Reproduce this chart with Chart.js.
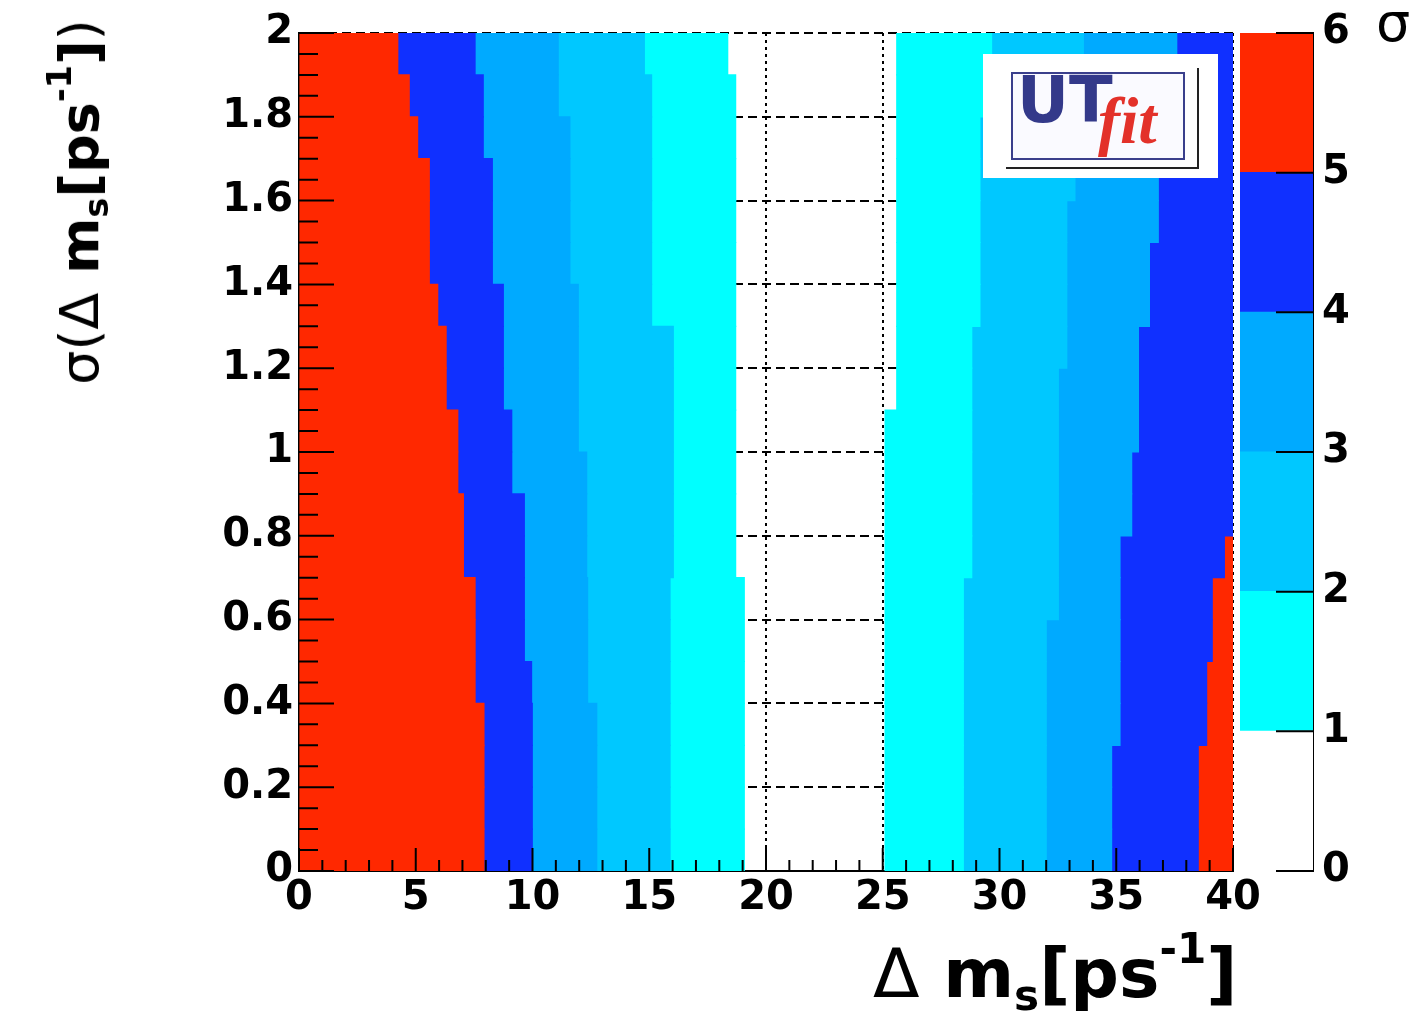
<!DOCTYPE html>
<html>
<head>
<meta charset="utf-8">
<script src="https://cdn.jsdelivr.net/npm/chart.js@4"></script>
<style>
  body { margin: 0; background: #fff; width: 1425px; height: 1017px; overflow: hidden; position: relative; font-family: 'DejaVu Sans', sans-serif; }
  .box { position: absolute; }
  .sub { font-size: 0.62em; position: relative; top: 0.3em; }
  .sup { font-size: 0.62em; position: relative; top: -0.8em; }
  .title { position: absolute; font-weight: bold; white-space: nowrap; color: #000; line-height: 1; }
  .thin { font-weight: normal; }
</style>
</head>
<body>
<div class="box" style="left:0;top:0;width:1425px;height:1017px"><canvas id="myChart"></canvas></div>
<div class="box" style="left:1236px;top:0;width:189px;height:1017px"><canvas id="scaleChart"></canvas></div>

<div class="title" id="xTitle" style="left:873px;top:940px;font-size:68px"><span class="thin">&Delta;</span> m<span class="sub">s</span>[ps<span class="sup">-1</span>]</div>
<div class="title" id="yTitle" style="left:80px;top:202px;font-size:54px;transform:translate(-50%,-50%) rotate(-90deg)"><span class="thin">&sigma;(&Delta;</span> m<span class="sub">s</span>[ps<span class="sup">-1</span>]<span class="thin">)</span></div>
<div class="title" style="left:1376px;top:-4px;font-size:54px;font-weight:normal">&sigma;</div>

<!-- UTfit logo -->
<div class="box" style="left:983px;top:54px;width:235px;height:124px;background:#fff"></div>
<div class="box" style="left:1006px;top:68px;width:191px;height:99px;border-right:2px solid #222;border-bottom:2px solid #222"></div>
<div class="box" style="left:1011px;top:72px;width:170px;height:84px;border:2px solid #3a3f8c;background:#fafaff"></div>
<div class="title" style="left:1017px;top:68px;font-size:64px;color:#33398a">UT</div>
<div class="title" style="left:1098px;top:88px;font-size:66px;color:#e3312a;font-family:'Liberation Serif',serif;font-style:italic">fit</div>

<script>
// sigma(dm_s) rows (centres of 0.1 wide bands)
const sigmaRows = [0.05,0.15,0.25,0.35,0.45,0.55,0.65,0.75,0.85,0.95,1.05,1.15,1.25,1.35,1.45,1.55,1.65,1.75,1.85,1.95];

// contour edges in dm_s, left side (low dm_s)
const leftRedBlue   = [7.92,7.92,7.92,7.92,7.54,7.54,7.54,7.04,7.04,6.8,6.8,6.3,6.3,5.94,5.58,5.58,5.58,5.08,4.72,4.23];
const leftBlue34    = [9.99,9.99,9.99,9.99,9.96,9.65,9.65,9.65,9.65,9.11,9.11,8.75,8.75,8.75,8.28,8.28,8.28,7.89,7.89,7.54];
const left34to23    = [12.75,12.75,12.75,12.75,12.36,12.36,12.36,12.32,12.32,12.32,11.96,11.96,11.96,11.96,11.6,11.6,11.6,11.6,11.1,11.1];
const left23Cyan    = [15.89,15.89,15.89,15.89,15.89,15.89,15.89,16.03,16.03,16.03,16.03,16.03,16.03,15.1,15.1,15.1,15.1,15.1,15.1,14.79];
const leftCyanWhite = [19.07,19.07,19.07,19.07,19.07,19.07,19.07,18.7,18.7,18.7,18.7,18.7,18.7,18.7,18.7,18.7,18.7,18.7,18.7,18.36];

// contour edges, right side (high dm_s)
const rightWhiteCyan = [25.1,25.1,25.1,25.1,25.1,25.1,25.1,25.1,25.1,25.1,25.1,25.6,25.6,25.6,25.6,25.6,25.6,25.6,25.6,25.6];
const rightCyan23    = [28.45,28.45,28.45,28.45,28.45,28.45,28.45,28.81,28.81,28.81,28.81,28.81,28.81,29.16,29.16,29.16,29.16,29.16,29.66,29.66];
const right23to34    = [32.0,32.0,32.0,32.0,32.0,32.0,32.52,32.52,32.52,32.52,32.52,32.52,32.88,32.88,32.88,32.88,33.23,33.4,33.59,33.59];
const right34Blue    = [34.8,34.8,34.8,35.16,35.16,35.16,35.16,35.16,35.66,35.66,35.95,35.95,35.95,36.42,36.42,36.8,36.8,37.2,37.59,37.59];
const rightBlueRed   = [38.51,38.51,38.51,38.87,38.87,39.11,39.11,39.63,40,40,40,40,40,40,40,40,40,40,40,40];

const xTicks = [0,5,10,15,20,25,30,35,40];
const yTicks = [0,0.2,0.4,0.6,0.8,1,1.2,1.4,1.6,1.8,2];

// colour levels of the significance (sigma) scale
const levels = [0,1,2,3,4,5,6];
const levelColors = ['#ffffff','#00ffff','#00c8ff','#00aaff','#1030ff','#ff2800'];

const tickFont = { family: 'DejaVu Sans', size: 40, weight: 'bold' };

function band(lo, hi, color) {
  return {
    data: sigmaRows.map((y, i) => ({ y: y, x: [typeof lo === 'number' ? lo : lo[i], typeof hi === 'number' ? hi : hi[i]] })),
    backgroundColor: color,
    borderWidth: 0,
    inflateAmount: 0.6,
    grouped: false,
    barPercentage: 1,
    categoryPercentage: 1
  };
}

// inward ROOT-like tick marks
const innerTicks = {
  id: 'innerTicks',
  afterDraw(chart) {
    const ctx = chart.ctx, a = chart.chartArea;
    const xs = chart.scales.x, ys = chart.scales.y;
    ctx.save();
    ctx.strokeStyle = '#000';
    ctx.lineWidth = 2;
    ctx.beginPath();
    for (let v = 0; v <= 40; v++) {
      const len = v % 5 === 0 ? 23 : 11;
      const px = xs.getPixelForValue(v);
      ctx.moveTo(px, a.bottom); ctx.lineTo(px, a.bottom - len);
    }
    for (let k = 0; k <= 40; k++) {
      const len = k % 4 === 0 ? 35 : 19;
      const py = ys.getPixelForValue(k * 0.05);
      ctx.moveTo(a.left, py); ctx.lineTo(a.left + len, py);
    }
    ctx.stroke();
    ctx.restore();
  }
};

let myChart = document.getElementById('myChart').getContext('2d');

let contourChart = new Chart(myChart, {
  type: 'bar',
  data: {
    datasets: [
      band(0, leftRedBlue, levelColors[5]),
      band(leftRedBlue, leftBlue34, levelColors[4]),
      band(leftBlue34, left34to23, levelColors[3]),
      band(left34to23, left23Cyan, levelColors[2]),
      band(left23Cyan, leftCyanWhite, levelColors[1]),
      band(rightWhiteCyan, rightCyan23, levelColors[1]),
      band(rightCyan23, right23to34, levelColors[2]),
      band(right23to34, right34Blue, levelColors[3]),
      band(right34Blue, rightBlueRed, levelColors[4]),
      band(rightBlueRed, 40, levelColors[5])
    ]
  },
  options: {
    indexAxis: 'y',
    responsive: true,
    maintainAspectRatio: false,
    animation: false,
    layout: { padding: { left: 0, top: 33, right: 192, bottom: 0 } },
    plugins: { legend: { display: false }, tooltip: { enabled: false } },
    scales: {
      x: {
        type: 'linear', min: 0, max: 40, z: 1,
        afterBuildTicks: s => { s.ticks = xTicks.map(v => ({ value: v })); },
        afterFit: s => { s.height = 146; },
        ticks: { font: tickFont, color: '#000', padding: 4, maxRotation: 0, autoSkip: false },
        grid: { color: '#000', lineWidth: 2, drawTicks: false },
        border: { display: true, color: '#000', width: 2, dash: [3, 4] }
      },
      y: {
        type: 'linear', min: 0, max: 2, offset: false, z: 1,
        afterBuildTicks: s => { s.ticks = yTicks.map(v => ({ value: v })); },
        afterFit: s => { s.width = 299; },
        ticks: { font: tickFont, color: '#000', padding: 6, autoSkip: false, callback: v => String(+v.toFixed(1)) },
        grid: { color: '#000', lineWidth: 2, drawTicks: false, offset: false },
        border: { display: true, color: '#000', width: 2, dash: [9, 5] }
      }
    }
  },
  plugins: [innerTicks]
});

// colour scale on the right
const scaleTicks = {
  id: 'scaleTicks',
  afterDraw(chart) {
    const ctx = chart.ctx, a = chart.chartArea, ys = chart.scales.y;
    ctx.save();
    ctx.strokeStyle = '#000';
    ctx.lineWidth = 2;
    ctx.beginPath();
    levels.forEach(v => {
      const py = ys.getPixelForValue(v);
      ctx.moveTo(a.right, py); ctx.lineTo(a.right - 37, py);
    });
    ctx.stroke();
    ctx.restore();
  }
};

let scaleCtx = document.getElementById('scaleChart').getContext('2d');

let scaleChart = new Chart(scaleCtx, {
  type: 'bar',
  data: {
    labels: ['sigma'],
    datasets: levelColors.map((c, i) => ({
      data: [[levels[i], levels[i + 1]]],
      backgroundColor: c,
      borderWidth: 0,
      inflateAmount: 0.6,
      grouped: false,
      barPercentage: 1,
      categoryPercentage: 1
    }))
  },
  options: {
    responsive: true,
    maintainAspectRatio: false,
    animation: false,
    layout: { padding: { left: 4, top: 31, right: 0, bottom: 146 } },
    plugins: { legend: { display: false }, tooltip: { enabled: false } },
    scales: {
      x: { display: false },
      y: {
        position: 'right', min: 0, max: 6, z: 1,
        afterFit: s => { s.width = 112; },
        ticks: { stepSize: 1, font: tickFont, color: '#000', padding: 9 },
        grid: { display: false, drawTicks: false },
        border: { display: true, color: '#000', width: 2 }
      }
    }
  },
  plugins: [scaleTicks]
});
</script>
</body>
</html>
